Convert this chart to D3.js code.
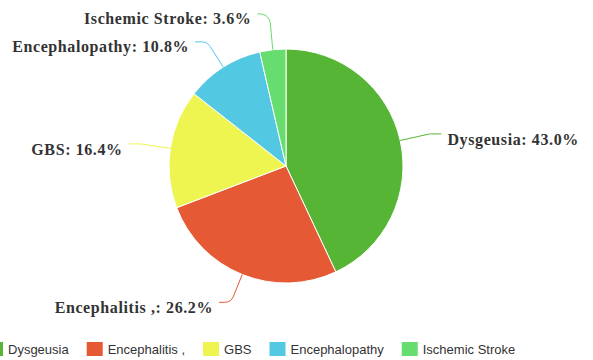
<!DOCTYPE html>
<html>
<head>
  <meta charset="utf-8">
  <title>pie-chart</title>
  <style>
    * { margin: 0; padding: 0; }
    html, body { width: 593px; height: 360px; background: #fff; overflow: hidden; }
    .label { font-family: "Liberation Serif", serif; font-weight: bold; font-size: 16px; letter-spacing: 0.6px; fill: #333; }
    .legend-text { font-family: "Liberation Sans", sans-serif; font-size: 13px; fill: #333; }
  </style>
</head>
<body>
  <svg id="svg"></svg>
  <script src="https://cdnjs.cloudflare.com/ajax/libs/d3/7.8.5/d3.min.js"></script>
  <script>
    const categories = ['Dysgeusia', 'Encephalitis ,', 'GBS', 'Encephalopathy', 'Ischemic Stroke'];
    const values = [43.0, 26.2, 16.4, 10.8, 3.6];
    const colors = ['#57b535', '#e55a35', '#eef550', '#52c8e2', '#66dd6e'];

    const width = 593, height = 360;
    const cx = 286, cy = 166, radius = 117;
    const len1 = 30, len2 = 12, textGap = 6, minGap = 28;

    const svg = d3.select('#svg').attr('width', width).attr('height', height);

    const pie = d3.pie().sort(null).value(d => d.value);
    const data = categories.map((c, i) => ({ name: c, value: values[i], color: colors[i] }));
    const arcs = pie(data);

    const arc = d3.arc().innerRadius(0).outerRadius(radius);
    const g = svg.append('g').attr('transform', `translate(${cx},${cy})`);

    g.selectAll('path.slice')
      .data(arcs)
      .enter()
      .append('path')
      .attr('class', 'slice')
      .attr('d', arc)
      .attr('fill', d => d.data.color)
      .attr('stroke', '#fff')
      .attr('stroke-width', 1);

    // label layout: radial segment then horizontal, push overlapping ones apart
    const labels = arcs.map(d => {
      const a = (d.startAngle + d.endAngle) / 2;
      const right = a < Math.PI;
      const p0 = [radius * Math.sin(a), -radius * Math.cos(a)];
      const p1 = [(radius + len1) * Math.sin(a), -(radius + len1) * Math.cos(a)];
      return { d, a, right, p0, p1, y: p1[1] };
    });

    ['left', 'right'].forEach(side => {
      const list = labels.filter(l => (side === 'right') === l.right).sort((a, b) => b.y - a.y);
      for (let i = 1; i < list.length; i++) {
        if (list[i - 1].y - list[i].y < minGap) list[i].y = list[i - 1].y - minGap;
      }
    });

    labels.forEach(l => {
      const dir = l.right ? 1 : -1;
      const p1 = [l.p1[0], l.y];
      const p2 = [l.p1[0] + dir * len2, l.y];
      const path = d3.path();
      path.moveTo(l.p0[0], l.p0[1]);
      path.arcTo(p1[0], p1[1], p2[0], p2[1], 10);
      path.lineTo(p2[0], p2[1]);
      g.append('path')
        .attr('d', path.toString())
        .attr('fill', 'none')
        .attr('stroke', l.d.data.color)
        .attr('stroke-width', 1);
      g.append('text')
        .attr('class', 'label')
        .attr('x', p2[0] + dir * textGap)
        .attr('y', l.y + 5)
        .attr('dy', '0.35em')
        .attr('text-anchor', l.right ? 'start' : 'end')
        .text(`${l.d.data.name}: ${d3.format('.1f')(l.d.data.value)}%`);
    });

    // legend
    const legendY = 349, iconW = 16, iconH = 14, itemGap = 18;
    let lx = -13;
    const legend = svg.append('g').attr('class', 'legend');
    data.forEach(d => {
      legend.append('rect')
        .attr('x', lx).attr('y', legendY - iconH / 2)
        .attr('width', iconW).attr('height', iconH)
        .attr('fill', d.color);
      const t = legend.append('text')
        .attr('class', 'legend-text')
        .attr('x', lx + iconW + 5)
        .attr('y', legendY)
        .attr('dy', '0.35em')
        .text(d.name);
      lx += iconW + 5 + t.node().getComputedTextLength() + itemGap;
    });
  </script>
</body>
</html>
